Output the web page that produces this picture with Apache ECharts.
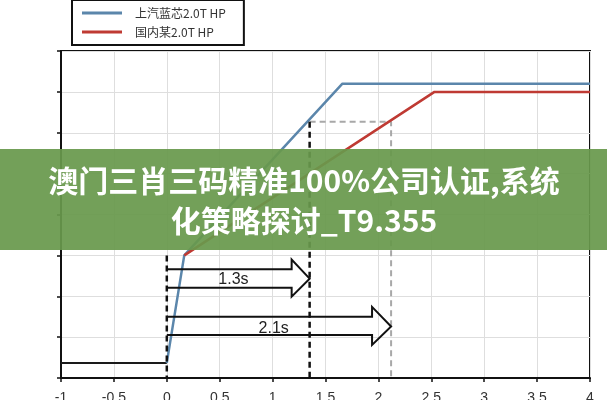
<!DOCTYPE html>
<html>
<head>
<meta charset="utf-8">
<script src="https://cdn.jsdelivr.net/npm/echarts@6/dist/echarts.min.js"></script>
<style>
html,body{margin:0;padding:0;background:#fff;}
#main{width:607px;height:400px;}
</style>
</head>
<body>
<div id="main"></div>
<script>
// ---- data ----
var seriesNames = ['上汽蓝芯2.0T HP', '国内某2.0T HP'];
var xTicks = [-1, -0.5, 0, 0.5, 1, 1.5, 2, 2.5, 3, 3.5, 4];
var baseX = [-1, 0];
var baseY = [0.37, 0.37];
var blueX = [0, 0.165, 1.66, 4];
var blueY = [0.37, 3.0, 7.2, 7.2];
var redX = [0.165, 2.53, 4];
var redY = [3.0, 7.0, 7.0];
var t1 = 1.35, t2 = 2.12, tLevel = 6.27, kneeY = 3.0;
var arrowLabels = ['1.3s', '2.1s'];
// arrow: [start x, head base x, tip x, shaft top, shaft bottom, head top, head bottom, mid]
var arrow1 = [0, 1.18, 1.35, 2.66, 2.21, 2.90, 1.99, 2.43];
var arrow2 = [0, 1.94, 2.12, 1.50, 1.05, 1.74, 0.81, 1.26];
var labelPos = [[0.63, 2.40], [1.01, 1.22]];
var bannerLines = ['澳门三肖三码精准100%公司认证,系统', '化策略探讨_T9.355'];

function zip(xs, ys){ return xs.map(function(x,i){ return [x, ys[i]]; }); }
function arrowPts(a){
  return [[a[0],a[3]],[a[1],a[3]],[a[1],a[5]],[a[2],a[7]],[a[1],a[6]],[a[1],a[4]],[a[0],a[4]]];
}

var chart = echarts.init(document.getElementById('main'), null, {renderer:'canvas'});
var black = '#111';
var option = {
  animation: false,
  backgroundColor: '#fff',
  grid: {left: 61, right: 17, top: 51, bottom: 22, containLabel: false, outerBoundsMode: 'none',
    show: true, borderColor: black, borderWidth: 2, backgroundColor: 'transparent'},
  legend: {
    data: [{name: seriesNames[0], icon: 'rect'}, {name: seriesNames[1], icon: 'rect'}],
    orient: 'vertical', left: 72, top: 0,
    itemWidth: 40, itemHeight: 3, itemGap: 5,
    padding: [6, 18, 6, 10],
    borderColor: black, borderWidth: 2, backgroundColor: '#fff',
    textStyle: {fontSize: 12, color: '#333', fontFamily: 'Noto Sans CJK SC', lineHeight: 14, padding: [0,0,0,8]}
  },
  xAxis: {
    type: 'value', min: -1, max: 4, interval: 0.5,
    axisLine: {show: true, onZero: false, lineStyle: {color: black, width: 2}},
    axisTick: {show: true, length: 4, lineStyle: {color: black, width: 1.5}},
    axisLabel: {fontSize: 14, color: '#333', margin: 13, fontFamily: 'Liberation Sans',
      formatter: function(v){ return String(v); }},
    splitLine: {show: true, lineStyle: {color: '#dedede', width: 1}}
  },
  yAxis: {
    type: 'value', min: 0, max: 8, interval: 1,
    axisLine: {show: true, onZero: false, lineStyle: {color: black, width: 2}},
    axisTick: {show: true, length: 4, lineStyle: {color: black, width: 1.5}},
    axisLabel: {show: false},
    splitLine: {show: true, lineStyle: {color: '#dedede', width: 1}}
  },
  series: [
    {type: 'line', name: 'gray dash', data: [[t1, tLevel],[t2, tLevel],[t2, 0]], symbol: 'none',
      lineStyle: {color: '#a8a8a8', width: 2, type: [6, 4]}, z: 3},
    {type: 'line', name: 'base', data: zip(baseX, baseY), symbol: 'none',
      lineStyle: {color: '#1a1a1a', width: 2}, z: 4},
    {type: 'line', name: seriesNames[0], data: zip(blueX, blueY), symbol: 'none', color: '#5b86ab',
      lineStyle: {color: '#5b86ab', width: 2.5}, z: 5},
    {type: 'line', name: seriesNames[1], data: zip(redX, redY), symbol: 'none', color: '#bf3a33',
      lineStyle: {color: '#bf3a33', width: 2.5}, z: 6},
    {type: 'line', name: 'black dash 0', data: [[0, kneeY],[0, 0]], symbol: 'none',
      lineStyle: {color: black, width: 2.5, type: [6, 4]}, z: 7},
    {type: 'line', name: 'black dash 1', data: [[t1, tLevel],[t1, 0]], symbol: 'none',
      lineStyle: {color: black, width: 2.5, type: [6, 4]}, z: 7},
    {type: 'custom', name: 'arrows', data: [0, 1],
      renderItem: function(params, api){
        var a = params.dataIndex === 0 ? arrow1 : arrow2;
        var pts = arrowPts(a).map(function(p){ return api.coord(p); });
        var lp = api.coord(labelPos[params.dataIndex]);
        return {type: 'group', children: [
          {type: 'polyline', shape: {points: pts}, style: {stroke: black, lineWidth: 2, fill: null, lineJoin: 'miter'}},
          {type: 'text', style: {text: arrowLabels[params.dataIndex], x: lp[0], y: lp[1], align: 'center', verticalAlign: 'middle',
            font: '16px "Liberation Sans"', fill: '#222'}}
        ]};
      }, z: 8}
  ],
  graphic: [
    {type: 'rect', shape: {x: 0, y: 149, width: 607, height: 101}, style: {fill: 'rgba(104,153,76,0.93)'}, z: 100},
    {type: 'text', x: 304, y: 181, z: 101, style: {text: bannerLines[0], align: 'center', verticalAlign: 'middle',
      font: 'bold 30px "Noto Sans CJK SC"', fill: '#fff'}},
    {type: 'text', x: 304, y: 221, z: 101, style: {text: bannerLines[1], align: 'center', verticalAlign: 'middle',
      font: 'bold 30px "Noto Sans CJK SC"', fill: '#fff'}}
  ]
};
chart.setOption(option);
</script>
</body>
</html>
